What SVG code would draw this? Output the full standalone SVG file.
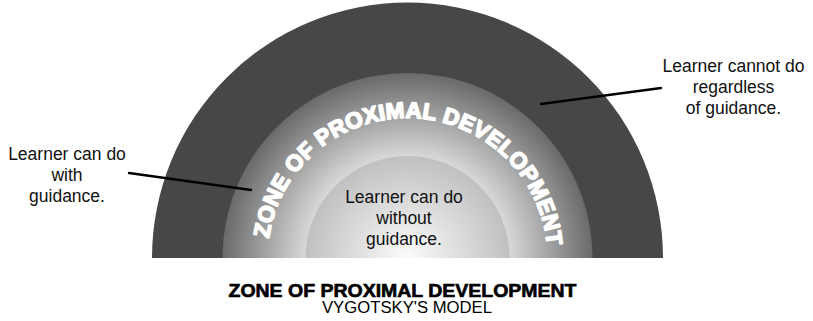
<svg xmlns="http://www.w3.org/2000/svg" xmlns:xlink="http://www.w3.org/1999/xlink" width="813" height="321" viewBox="0 0 813 321">
  <style>
    .label { font-family: "Liberation Sans", Arial, sans-serif; font-size: 17.5px; fill: #111; text-anchor: middle; }
    .arc-title { font-family: "Liberation Sans", Arial, sans-serif; font-size: 22.5px; font-weight: bold; fill: #ffffff; stroke: #ffffff; stroke-width: 1.6; stroke-linejoin: round; }
    .title { font-family: "Liberation Sans", Arial, sans-serif; font-weight: bold; font-size: 17.5px; fill: #000; stroke: #000; stroke-width: 0.6; text-anchor: middle; }
    .subtitle { font-family: "Liberation Sans", Arial, sans-serif; font-size: 16px; fill: #000; text-anchor: middle; }
    .leader { stroke: #000; stroke-width: 2.4; fill: none; stroke-linecap: round; }
  </style>
  <defs>
    <radialGradient id="gradMiddle" gradientUnits="userSpaceOnUse" cx="407.5" cy="258" r="185">
      <stop offset="0" stop-color="#ffffff"/>
      <stop offset="0.55" stop-color="#d8d8d8"/>
      <stop offset="1" stop-color="#6a6a6a"/>
    </radialGradient>
    <radialGradient id="gradInner" gradientUnits="userSpaceOnUse" cx="407.5" cy="258" r="102">
      <stop offset="0" stop-color="#fcfcfc"/>
      <stop offset="1" stop-color="#c0c0c0"/>
    </radialGradient>
    <path id="titleArc" d="M 267.5 258 A 140 140 0 0 1 547.5 258"/>
  </defs>

  <rect width="813" height="321" fill="#ffffff"/>

  <!-- outer zone: cannot do -->
  <g id="zone-outer">
    <path d="M 152 258 A 255.5 255.5 0 0 1 663 258 Z" fill="#474747"/>
  </g>

  <!-- zone of proximal development -->
  <g id="zone-middle">
    <path d="M 222.5 258 A 185 185 0 0 1 592.5 258 Z" fill="url(#gradMiddle)"/>
    <text class="arc-title"><textPath xlink:href="#titleArc" href="#titleArc" startOffset="19.5" textLength="408" lengthAdjust="spacing">ZONE OF PROXIMAL DEVELOPMENT</textPath></text>
  </g>

  <!-- inner zone: can do alone -->
  <g id="zone-inner">
    <path d="M 305.5 258 A 102 102 0 0 1 509.5 258 Z" fill="url(#gradInner)"/>
    <text class="label" x="404" y="203">Learner can do</text>
    <text class="label" x="404" y="224">without</text>
    <text class="label" x="404" y="245">guidance.</text>
  </g>

  <g id="label-with-guidance">
    <text class="label" x="67" y="160">Learner can do</text>
    <text class="label" x="67" y="181">with</text>
    <text class="label" x="67" y="202">guidance.</text>
  </g>

  <g id="label-cannot">
    <text class="label" x="733.5" y="72">Learner cannot do</text>
    <text class="label" x="733.5" y="93">regardless</text>
    <text class="label" x="733.5" y="114">of guidance.</text>
  </g>

  <g id="connectors">
    <line class="leader" x1="129" y1="173" x2="251" y2="190"/>
    <line class="leader" x1="541" y1="104" x2="661" y2="88"/>
  </g>

  <g id="caption">
    <text class="title" x="402.5" y="296.5" textLength="348" lengthAdjust="spacingAndGlyphs">ZONE OF PROXIMAL DEVELOPMENT</text>
    <text class="subtitle" x="407" y="313" textLength="170" lengthAdjust="spacingAndGlyphs">VYGOTSKY'S MODEL</text>
  </g>
</svg>
